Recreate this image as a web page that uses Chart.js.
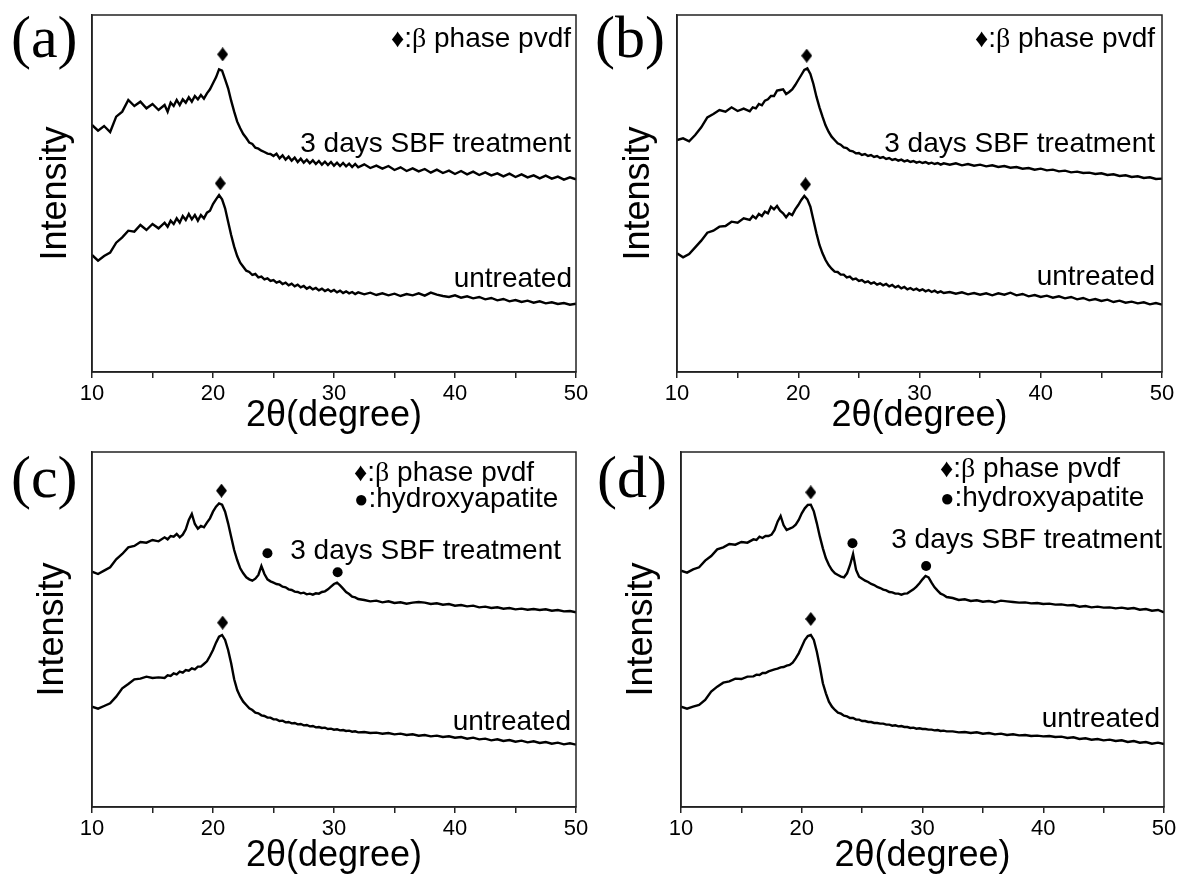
<!DOCTYPE html>
<html>
<head>
<meta charset="utf-8">
<script src="https://cdn.jsdelivr.net/npm/chart.js@4.4.0/dist/chart.umd.min.js"></script>
<style>
  html, body { margin: 0; padding: 0; background: #fff; overflow: hidden; }
  #page { position: relative; width: 1180px; height: 877px; }
  .panel { position: absolute; }
  .tag { position: absolute; font-family: "Liberation Serif", "Times New Roman", serif; font-size: 60px; line-height: 60px; color: #000; }
  .note { position: absolute; font-family: "Liberation Sans", Arial, sans-serif; font-size: 28px; line-height: 28px; color: #000; white-space: nowrap; }
  .sym { font-size: 26px; }
  .dot { font-size: 24px; }
  .greek { font-family: "Liberation Serif", "Times New Roman", serif; }
</style>
</head>
<body>
<div id="page">
  <div class="panel" style="left:0;top:0"><canvas id="chartA" width="600" height="438"></canvas></div>
  <div class="panel" style="left:600px;top:0"><canvas id="chartB" width="586" height="438"></canvas></div>
  <div class="panel" style="left:0;top:440px"><canvas id="chartC" width="600" height="437"></canvas></div>
  <div class="panel" style="left:600px;top:440px"><canvas id="chartD" width="586" height="437"></canvas></div>

  <div class="tag" style="left:11px;top:7px">(a)</div>
  <div class="tag" style="left:595px;top:7px">(b)</div>
  <div class="tag" style="left:11px;top:447px">(c)</div>
  <div class="tag" style="left:597px;top:447px">(d)</div>

  <div class="note" style="top:24px;right:609px"><span class="sym">♦</span>:<span class="greek">β</span> phase pvdf</div>
  <div class="note" style="top:129px;right:609px">3 days SBF treatment</div>
  <div class="note" style="top:264px;right:608px">untreated</div>

  <div class="note" style="top:24px;right:25px"><span class="sym">♦</span>:<span class="greek">β</span> phase pvdf</div>
  <div class="note" style="top:129px;right:25px">3 days SBF treatment</div>
  <div class="note" style="top:262px;right:25px">untreated</div>

  <div class="note" style="top:458px;left:354px"><span class="sym">♦</span>:<span class="greek">β</span> phase pvdf</div>
  <div class="note" style="top:484px;left:354px"><span class="dot">●</span>:hydroxyapatite</div>
  <div class="note" style="top:536px;right:619px">3 days SBF treatment</div>
  <div class="note" style="top:707px;right:609px">untreated</div>

  <div class="note" style="top:454px;left:940px"><span class="sym">♦</span>:<span class="greek">β</span> phase pvdf</div>
  <div class="note" style="top:483px;left:940px"><span class="dot">●</span>:hydroxyapatite</div>
  <div class="note" style="top:525px;right:18px">3 days SBF treatment</div>
  <div class="note" style="top:704px;right:20px">untreated</div>
</div>
<script>
// 2theta positions shared by every pattern (finer steps around the peaks)
const twoTheta = [10,10.5,11,11.5,12,12.5,13,13.5,14,14.5,15,15.5,16,
  16.25,16.5,16.75,17,17.25,17.5,17.75,18,18.25,18.5,18.75,19,19.25,19.5,19.75,20,
  20.25,20.5,20.75,21,21.25,21.5,21.75,22,22.25,22.5,22.75,23,23.25,23.5,23.75,24,
  24.25,24.5,24.75,25,25.25,25.5,25.75,26,26.25,26.5,26.75,27,27.25,27.5,27.75,28,
  28.25,28.5,28.75,29,29.25,29.5,29.75,30,30.25,30.5,30.75,31,31.25,31.5,31.75,32,
  32.5,33,33.5,34,34.5,35,35.5,36,36.5,37,37.5,38,38.5,39,39.5,40,40.5,41,41.5,42,
  42.5,43,43.5,44,44.5,45,45.5,46,46.5,47,47.5,48,48.5,49,49.5,50];

// (a)
const aSbf = [741,724,738,720,766,781,816,798,811,791,804,786,801,
  781,808,798,816,801,818,808,824,811,828,818,831,820,836,848,866,884,908,904,878,
  851,814,781,751,731,714,702,688,684,673,670,664,660,655,654,648,655,641,650,637,
  646,634,643,630,640,628,637,626,635,624,633,622,631,621,630,619,628,618,627,617,
  625,615,624,614,
  623,612,619,610,618,606,614,603,611,602,609,598,607,597,604,594,603,593,601,591,
  599,590,596,587,595,585,593,584,590,581,589,580,586,577,584,578];
const aUntreated = [351,334,348,358,388,404,424,421,441,426,444,431,448,
  436,454,444,461,448,468,456,474,458,471,454,471,461,478,484,504,518,531,518,491,
  451,411,376,348,328,316,304,300,291,294,284,286,278,281,273,276,268,272,264,268,
  260,265,257,262,254,258,250,255,248,252,245,250,243,248,241,246,239,244,237,242,
  236,240,234,239,
  233,238,231,236,230,235,228,234,230,236,229,238,232,228,225,230,223,227,221,225,
  218,222,215,219,212,216,210,214,208,212,206,209,204,207,202,205];
const aPvdfX = [20.8, 20.6];
const aPvdfY = [953, 566];

// (b)
const bSbf = [696,701,692,711,734,764,774,786,781,794,783,790,782,
  794,791,804,800,814,818,828,828,844,846,848,834,840,848,861,876,891,906,911,894,
  864,826,794,766,740,721,706,696,686,682,674,672,664,662,656,657,651,654,648,651,
  645,648,642,645,639,642,636,639,634,637,632,635,630,633,628,631,627,630,625,628,
  624,627,622,626,
  622,626,620,624,619,622,617,620,615,618,613,615,610,612,607,610,605,607,602,604,
  599,601,597,598,594,596,591,593,588,590,585,587,582,584,579,580];
const bUntreated = [356,344,354,374,394,418,424,436,438,451,448,461,456,
  468,461,474,468,481,476,496,488,498,484,476,464,476,471,488,501,516,528,518,496,
  456,416,381,356,336,321,310,301,300,292,292,284,286,278,280,273,276,269,272,265,
  269,262,266,260,264,257,261,254,258,251,255,248,252,246,250,244,248,242,246,240,
  244,238,242,237,
  240,235,239,233,237,232,236,230,236,232,238,230,234,227,231,225,229,223,227,221,
  225,218,222,215,219,213,217,210,214,208,211,206,209,203,207,202];
const bPvdfX = [20.7, 20.6];
const bPvdfY = [949, 563];

// (c)
const cSbf = [706,699,709,719,743,759,779,783,795,793,801,797,809,
  803,813,811,819,809,817,833,861,879,849,835,843,839,853,866,886,901,911,907,886,
  851,811,771,741,716,701,689,683,679,685,696,723,699,683,677,673,669,667,661,659,
  653,651,646,645,641,643,638,640,637,641,640,645,647,653,661,669,673,665,655,645,
  639,631,629,624,
  621,617,619,614,617,612,614,610,613,615,613,609,611,607,609,604,606,602,604,599,
  601,597,599,595,597,593,595,592,594,591,593,589,591,587,588,584];
const cUntreated = [301,295,303,311,331,356,369,383,385,391,387,389,387,
  395,393,401,398,406,403,411,409,416,413,421,421,429,437,453,471,493,511,516,501,
  471,431,383,351,331,316,306,296,291,283,281,275,273,268,268,263,263,258,259,254,
  255,251,252,248,249,245,246,242,243,239,240,237,238,234,235,232,233,230,231,228,
  229,226,227,224,
  225,222,223,220,222,218,220,216,218,214,216,212,214,210,212,208,210,205,208,203,
  205,200,203,198,201,196,199,194,197,192,195,190,193,188,191,187];
const cPvdfX = [20.7, 20.8];
const cPvdfY = [949, 553];
const cHapX = [24.5, 30.3];
const cHapY = [761, 704];

// (d)
const dSbf = [709,703,713,719,739,753,773,779,789,787,795,793,803,
  801,811,807,813,813,817,831,856,873,845,831,835,839,847,861,881,896,906,907,887,
  851,811,776,746,726,711,701,696,691,689,701,726,759,711,691,685,679,675,669,666,
  660,657,652,650,645,644,640,640,637,640,641,647,653,661,671,683,693,689,673,659,
  649,640,636,630,
  627,621,623,618,620,616,618,614,619,617,615,613,614,611,612,609,610,607,608,605,
  606,601,603,599,601,598,599,596,598,595,597,592,594,589,591,584];
const dUntreated = [301,295,301,306,321,346,361,373,377,385,384,391,392,
  397,396,402,402,407,410,413,415,419,420,424,426,433,446,461,481,501,513,516,501,
  466,421,371,341,316,301,291,283,280,274,272,267,267,262,262,258,258,255,255,252,
  252,250,250,247,247,244,245,242,243,240,240,237,238,235,236,234,234,232,232,230,
  231,228,229,227,
  227,224,225,222,224,220,222,218,220,216,218,215,216,213,214,212,213,210,211,207,
  209,204,206,202,204,200,202,198,200,195,198,193,195,190,193,189];
const dPvdfX = [20.75, 20.75];
const dPvdfY = [944, 564];
const dHapX = [24.2, 30.3];
const dHapY = [791, 723];

const xMin = 10, xMax = 50, xStep = 5;

Chart.defaults.font.family = '"Liberation Sans", Arial, sans-serif';
Chart.defaults.color = '#000';

// tall diamond marker
const diamond = document.createElement('canvas');
diamond.width = 11; diamond.height = 14;
const dctx = diamond.getContext('2d');
dctx.fillStyle = '#000';
dctx.beginPath();
dctx.moveTo(5.5, 0); dctx.lineTo(11, 7); dctx.lineTo(5.5, 14); dctx.lineTo(0, 7);
dctx.closePath(); dctx.fill();

const framePlugin = {
  id: 'frame',
  afterDraw(chart) {
    const {ctx, chartArea: a} = chart;
    ctx.save();
    ctx.strokeStyle = '#222';
    ctx.lineWidth = 1.5;
    ctx.strokeRect(a.left, a.top, a.right - a.left, a.bottom - a.top);
    ctx.restore();
  }
};

function pts(xs, ys) {
  return xs.map((x, i) => ({x: x, y: ys[i]}));
}

function makePanel(id, g, sbf, untreated, pvdfX, pvdfY, hapX, hapY) {
  const datasets = [
    {data: pts(twoTheta, sbf), borderColor: '#000', borderWidth: 2.4, pointRadius: 0, tension: 0, fill: false},
    {data: pts(twoTheta, untreated), borderColor: '#000', borderWidth: 2.4, pointRadius: 0, tension: 0, fill: false},
    {data: pts(pvdfX, pvdfY), showLine: false, pointStyle: diamond, pointRadius: 7}
  ];
  if (hapX) {
    datasets.push({data: pts(hapX, hapY), showLine: false, pointStyle: 'circle', pointRadius: 5,
      pointBackgroundColor: '#000', pointBorderColor: '#000', pointBorderWidth: 0});
  }
  new Chart(document.getElementById(id), {
    type: 'line',
    data: {datasets: datasets},
    options: {
      responsive: false,
      animation: false,
      layout: {padding: {left: 0, top: g.top, right: g.right, bottom: 0}},
      plugins: {legend: {display: false}, tooltip: {enabled: false}},
      scales: {
        x: {
          type: 'linear', min: xMin, max: xMax,
          afterFit: s => { s.height = g.xh; },
          ticks: {stepSize: xStep, autoSkip: false, maxRotation: 0, padding: 3, color: '#000',
            font: {size: 22}, callback: v => (v % 10 === 0 ? v : '')},
          grid: {display: true, drawOnChartArea: false, drawTicks: true, tickLength: 6, color: '#222', lineWidth: 1.5},
          border: {display: true, color: '#222', width: 1.5},
          title: {display: true, text: '2θ(degree)', color: '#000', font: {size: 36},
            padding: {top: 0, bottom: g.xtb}}
        },
        y: {
          min: 0, max: g.ymax,
          afterFit: s => { s.width = g.yw; },
          ticks: {display: false},
          grid: {display: false},
          border: {display: true, color: '#222', width: 1.5},
          title: {display: true, text: 'Intensity', color: '#000', font: {size: 36},
            padding: {top: g.ytp, bottom: 0}}
        }
      }
    },
    plugins: [framePlugin]
  });
}

makePanel('chartA', {top: 15, right: 24, xh: 66, yw: 92, ytp: 34, xtb: 0, ymax: 1071}, aSbf, aUntreated, aPvdfX, aPvdfY);
makePanel('chartB', {top: 15, right: 24, xh: 66, yw: 77, ytp: 17, xtb: 0, ymax: 1071}, bSbf, bUntreated, bPvdfX, bPvdfY);
makePanel('chartC', {top: 12, right: 24, xh: 70, yw: 92, ytp: 31, xtb: -1, ymax: 1065}, cSbf, cUntreated, cPvdfX, cPvdfY, cHapX, cHapY);
makePanel('chartD', {top: 12, right: 22, xh: 70, yw: 81, ytp: 20, xtb: -1, ymax: 1065}, dSbf, dUntreated, dPvdfX, dPvdfY, dHapX, dHapY);
</script>
</body>
</html>
